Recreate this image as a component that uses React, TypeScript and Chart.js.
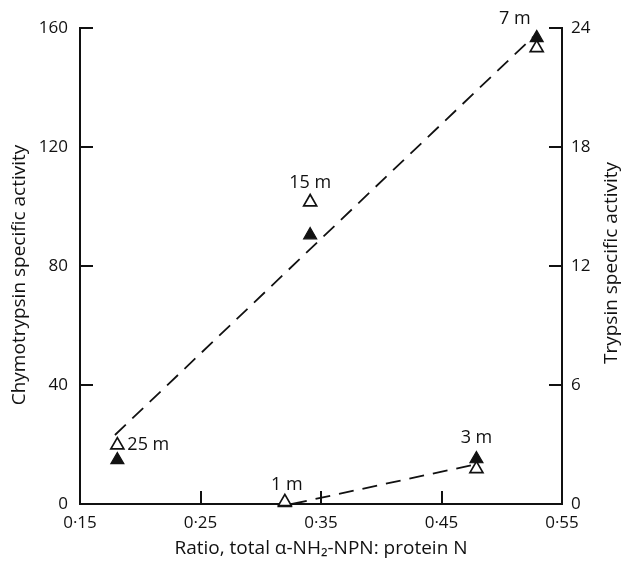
import React, { useEffect, useRef } from 'react';
import { Chart, registerables } from 'chart.js';

Chart.register(...registerables);

// ---- data ----
const pointLabels = ['1 m', '3 m', '7 m', '15 m', '25 m'];
const ratio = [0.32, 0.479, 0.529, 0.341, 0.181];
const chymotrypsin = [0.7, 11.8, 153.3, 101.5, 19.8]; // open triangles, left axis
const trypsin = [0.05, 2.27, 23.5, 13.56, 2.22]; // filled triangles, right axis

const upperLineX = [0.179, 0.526];
const upperLineY = [23.2, 157];
const lowerLineX = [0.326, 0.478];
const lowerLineY = [0, 13.3];

const xTicks = [0.15, 0.25, 0.35, 0.45, 0.55];
const xTickLabels = ['0·15', '0·25', '0·35', '0·45', '0·55'];
const chymoTicks = [0, 40, 80, 120, 160];
const trypsinTicks = [0, 6, 12, 18, 24];

const xTitle = 'Ratio, total α-NH₂-NPN: protein N';
const yLeftTitle = 'Chymotrypsin specific activity';
const yRightTitle = 'Trypsin specific activity';

// ---- styling ----
const FONT = '"Open Sans", "DejaVu Sans", sans-serif';
const INK = '#111';
const labelPlacement = [
  { dx: 2, dy: -17, align: 'center' },
  { dx: 0, dy: -21, align: 'center' },
  { dx: -6, dy: -19, align: 'right' },
  { dx: 0, dy: -19, align: 'center' },
  { dx: 10, dy: 0, align: 'left' },
];

const decorPlugin = {
  id: 'decor',
  afterDraw(chart: any) {
    const ctx = chart.ctx as CanvasRenderingContext2D;
    const xs = chart.scales.x;
    const yl = chart.scales.y;
    const yr = chart.scales.y1;
    const area = chart.chartArea;
    ctx.save();
    ctx.strokeStyle = INK;
    ctx.lineWidth = 2;
    const TL = 13;
    // inward tick marks
    chymoTicks.forEach((v) => {
      const y = Math.round(yl.getPixelForValue(v));
      if (v === 0) return;
      ctx.beginPath();
      ctx.moveTo(area.left, y);
      ctx.lineTo(area.left + TL, y);
      ctx.stroke();
    });
    trypsinTicks.forEach((v) => {
      const y = Math.round(yr.getPixelForValue(v));
      if (v === 0) return;
      ctx.beginPath();
      ctx.moveTo(area.right, y);
      ctx.lineTo(area.right - TL, y);
      ctx.stroke();
    });
    xTicks.forEach((v, i) => {
      if (i === 0 || i === xTicks.length - 1) return;
      const x = Math.round(xs.getPixelForValue(v));
      ctx.beginPath();
      ctx.moveTo(x, area.bottom);
      ctx.lineTo(x, area.bottom - TL);
      ctx.stroke();
    });

    // point labels
    ctx.fillStyle = INK;
    ctx.font = `18px ${FONT}`;
    ctx.textBaseline = 'middle';
    pointLabels.forEach((lab, i) => {
      const px = xs.getPixelForValue(ratio[i]);
      const py = Math.min(yl.getPixelForValue(chymotrypsin[i]), yr.getPixelForValue(trypsin[i]));
      const p = labelPlacement[i];
      ctx.textAlign = p.align as CanvasTextAlign;
      ctx.fillText(lab, px + p.dx, py + p.dy);
    });

    // axis titles
    ctx.font = `19px ${FONT}`;
    ctx.textAlign = 'center';
    ctx.textBaseline = 'middle';
    ctx.fillText(xTitle, (area.left + area.right) / 2, 549);
    ctx.save();
    ctx.translate(20, 275);
    ctx.rotate(-Math.PI / 2);
    ctx.fillText(yLeftTitle, 0, 0);
    ctx.restore();
    ctx.save();
    ctx.translate(612, 263);
    ctx.rotate(-Math.PI / 2);
    ctx.fillText(yRightTitle, 0, 0);
    ctx.restore();
    ctx.restore();
  },
};

export default function App() {
  const ref = useRef<HTMLCanvasElement | null>(null);
  useEffect(() => {
    document.body.style.margin = '0';
    const canvas = ref.current;
    if (!canvas) return;
    const openPts = ratio.map((x, i) => ({ x, y: chymotrypsin[i] }));
    const filledPts = ratio.map((x, i) => ({ x, y: trypsin[i] }));
    const upper = upperLineX.map((x, i) => ({ x, y: upperLineY[i] }));
    const lower = lowerLineX.map((x, i) => ({ x, y: lowerLineY[i] }));
    const chart = new Chart(canvas, {
      type: 'scatter',
      data: {
        datasets: [
          {
            label: 'Chymotrypsin',
            data: openPts,
            yAxisID: 'y',
            pointStyle: 'triangle',
            pointRadius: 7.5,
            pointBackgroundColor: '#fff',
            pointBorderColor: INK,
            pointBorderWidth: 1.7,
            clip: false,
          } as any,
          {
            label: 'Trypsin',
            data: filledPts,
            yAxisID: 'y1',
            pointStyle: 'triangle',
            pointRadius: 7.5,
            pointBackgroundColor: INK,
            pointBorderColor: INK,
            pointBorderWidth: 1.2,
            clip: false,
          } as any,
          {
            label: 'fit upper',
            data: upper,
            yAxisID: 'y',
            showLine: true,
            borderColor: INK,
            borderWidth: 1.8,
            borderDash: [15, 9],
            pointRadius: 0,
            clip: false,
          } as any,
          {
            label: 'fit lower',
            data: lower,
            yAxisID: 'y',
            showLine: true,
            borderColor: INK,
            borderWidth: 1.8,
            borderDash: [15, 9],
            pointRadius: 0,
            clip: false,
          } as any,
        ],
      },
      options: {
        responsive: false,
        animation: false,
        layout: { padding: { top: 28, left: 0, right: 0, bottom: 0 } },
        plugins: { legend: { display: false }, tooltip: { enabled: false } },
        scales: {
          x: {
            type: 'linear',
            min: 0.15,
            max: 0.55,
            afterBuildTicks: (s: any) => {
              s.ticks = xTicks.map((v) => ({ value: v }));
            },
            afterFit: (s: any) => {
              s.height = 59;
            },
            grid: { display: false, drawTicks: false },
            border: { display: true, color: INK, width: 2 },
            ticks: {
              padding: 9,
              color: INK,
              font: { family: FONT, size: 17 },
              maxRotation: 0,
              callback: (v: any) => {
                const i = xTicks.findIndex((t) => Math.abs(t - Number(v)) < 1e-6);
                return i >= 0 ? xTickLabels[i] : '';
              },
            },
          },
          y: {
            type: 'linear',
            position: 'left',
            min: 0,
            max: 160,
            afterBuildTicks: (s: any) => {
              s.ticks = chymoTicks.map((v) => ({ value: v }));
            },
            afterFit: (s: any) => {
              s.width = 80;
            },
            grid: { display: false, drawTicks: false },
            border: { display: true, color: INK, width: 2 },
            ticks: { padding: 12, color: INK, font: { family: FONT, size: 17 } },
          },
          y1: {
            type: 'linear',
            position: 'right',
            min: 0,
            max: 24,
            afterBuildTicks: (s: any) => {
              s.ticks = trypsinTicks.map((v) => ({ value: v }));
            },
            afterFit: (s: any) => {
              s.width = 61;
            },
            grid: { display: false, drawTicks: false },
            border: { display: true, color: INK, width: 2 },
            ticks: { padding: 9, color: INK, font: { family: FONT, size: 17 } },
          },
        },
      },
      plugins: [decorPlugin],
    });
    return () => chart.destroy();
  }, []);
  return (
    <div style={{ width: 623, height: 563, background: '#fff' }}>
      <canvas ref={ref} width={623} height={563} style={{ display: 'block' }} />
    </div>
  );
}
